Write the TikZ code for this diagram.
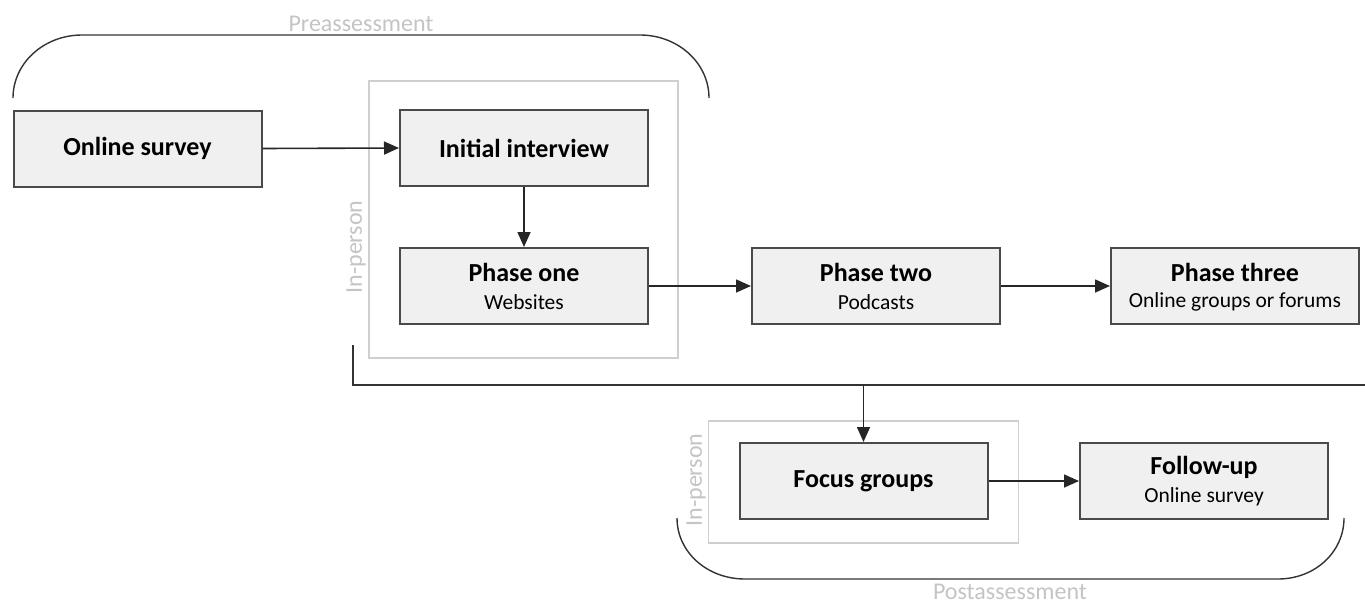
\documentclass[tikz,border=0pt]{standalone}
\usepackage{fontspec}
\setmainfont{Carlito}
\usetikzlibrary{arrows.meta}
\definecolor{boxfill}{HTML}{F0F0F0}
\definecolor{boxline}{HTML}{4A4A4A}
\definecolor{faint}{HTML}{CFCFCF}
\definecolor{labelgray}{HTML}{C4C4C4}
\tikzset{
  stepbox/.style={draw=boxline, fill=boxfill, line width=2pt, minimum width=248pt, minimum height=76pt, inner sep=0pt},
  grpbox/.style={draw=faint, line width=1.5pt},
  conn/.style={line width=1.6pt, draw=black!85, -{Triangle[length=15pt,width=13pt]}},
  bracket/.style={line width=1.4pt, draw=black!80},
  grplabel/.style={text=labelgray, font=\fontsize{24}{27}\selectfont, inner sep=0pt},
  tbold/.style={font=\fontsize{26}{29}\selectfont\bfseries},
  tsmall/.style={font=\fontsize{21.5}{24}\selectfont}
}
\begin{document}
\begin{tikzpicture}[x=1pt,y=-1pt]
\useasboundingbox (0,0) rectangle (1365,605);
% group boxes
\node[grpbox, minimum width=309pt, minimum height=277pt, inner sep=0pt] (ip1) at (523.5,219.5) {};
\node[grpbox, minimum width=310pt, minimum height=122pt, inner sep=0pt] (ip2) at (863.5,482) {};
\node[grplabel, rotate=90] (ip1lab) at (356,247) {In-person};
\node[grplabel, rotate=90] (ip2lab) at (696,480) {In-person};
% step boxes
\node[stepbox] (os) at (137.5,148.5) {};
\node[tbold] (ostxt) at (os.center) {Online survey};
\node[stepbox] (ii) at (524,148) {};
\node[tbold] (iitxt) at (ii.center) {Initial interview};
\node[stepbox] (p1) at (524,286) {};
\node[tbold] (p1a) at (524,272) {Phase one};
\node[tsmall] (p1b) at (524,302) {Websites};
\node[stepbox] (p2) at (876,286) {};
\node[tbold] (p2a) at (876,272) {Phase two};
\node[tsmall] (p2b) at (876,302) {Podcasts};
\node[stepbox] (p3) at (1235,286) {};
\node[tbold] (p3a) at (1235,272) {Phase three};
\node[tsmall] (p3b) at (1235,302) {Online groups or forums};
\node[stepbox] (fg) at (863.5,481) {};
\node[tbold] (fgtxt) at (fg.center) {Focus groups};
\node[stepbox] (fu) at (1204,481) {};
\node[tbold] (fua) at (1204,467) {Follow-up};
\node[tsmall] (fub) at (1204,497) {Online survey};
% connectors
\draw[conn] (os.east) -- (ii.west);
\draw[conn] (ii.south) -- (p1.north);
\draw[conn] (p1.east) -- (p2.west);
\draw[conn] (p2.east) -- (p3.west);
\draw[conn] (fg.east) -- (fu.west);
% bracket line
\coordinate (bstart) at (353,345);
\coordinate (bcorner) at (353,385);
\coordinate (bend) at (1365,385);
\coordinate (bdrop) at (863.5,385);
\draw[bracket] (bstart) -- (bcorner) -- (bend);
\draw[conn] (bdrop) -- (fg.north);
% preassessment arc
\coordinate (preL) at (13,98);
\coordinate (preR) at (709,98);
\draw[bracket] (preL) .. controls (13,63) and (44,35) .. (82,35) -- (640,35) .. controls (678,35) and (709,63) .. (preR);
\node[grplabel] (prelab) at (361,24) {Preassessment};
% postassessment arc
\coordinate (postL) at (677,518);
\coordinate (postR) at (1344,518);
\draw[bracket] (postL) .. controls (677,552) and (707,579) .. (745,579) -- (1278,579) .. controls (1315,579) and (1344,552) .. (postR);
\node[grplabel] (postlab) at (1010,592) {Postassessment};
\end{tikzpicture}
\end{document}
